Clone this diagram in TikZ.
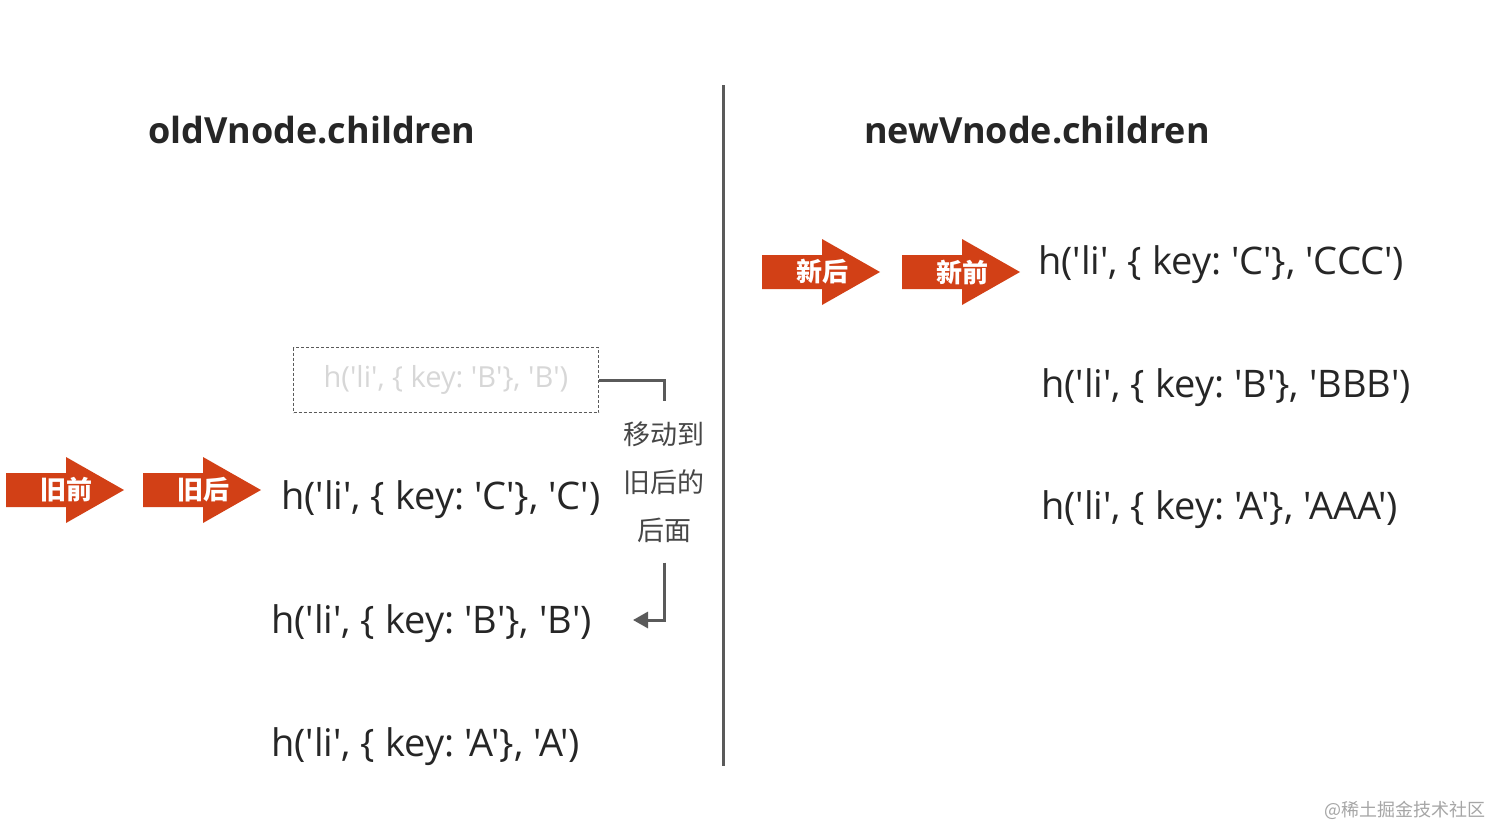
\documentclass[tikz,border=0pt]{standalone}
\usepackage{fontspec}
\setmainfont{Open Sans}
\newfontfamily\codefont{Open Sans}
\newfontfamily\cjk{Noto Sans CJK SC}
\usetikzlibrary{arrows.meta}
\usetikzlibrary{positioning}
\frenchspacing
\definecolor{tagred}{RGB}{210,64,22}
\definecolor{ink}{RGB}{38,38,38}
\definecolor{wire}{RGB}{90,90,90}
\definecolor{faded}{RGB}{215,215,215}
\tikzset{
	hcall/.style={font=\codefont\fontsize{38}{44}\selectfont, text=ink, inner sep=0pt, anchor=west},
	title/.style={font=\codefont\bfseries\fontsize{36}{42}\selectfont, text=ink, inner sep=0pt},
	ghost/.style={draw=wire, line width=1.5pt, dash pattern=on 3pt off 2pt, minimum width=305pt, minimum height=65pt, text=faded, font=\codefont\fontsize{29}{35}\selectfont},
	tag/.style={font=\cjk\bfseries\fontsize{26}{26}\selectfont, text=white, inner sep=0pt},
	note/.style={font=\cjk\fontsize{27}{48}\selectfont, text=ink!85, align=center, inner xsep=0pt, inner ysep=20pt},
	link/.style={draw=wire, line width=3pt},
	divider/.style={draw=wire, line width=3pt},
	stamp/.style={font=\cjk\fontsize{18}{18}\selectfont, text=black!35, inner sep=0pt},
	pics/pointer/.style={code={
		\fill[tagred] (-60,-17) -- (0,-17) -- (0,-33) -- (58,0) -- (0,33) -- (0,17) -- (-60,17) -- cycle;
	}}
}
\begin{document}
\begin{tikzpicture}[x=1pt, y=-1pt]
\useasboundingbox[fill=white] (0,0) rectangle (1491,827);

% headings
\node[title] (oldT) at (312,130) {oldVnode.children};
\node[title] (newT) at (1037,130) {newVnode.children};

\draw[divider] (723,85) -- (723,766);

% old children
\node[ghost] (ghostB) at (446,380) {h('li', \{ key: 'B'\}, 'B')};
\node[hcall] (oldC) at (281,500) {h('li', \{ key: 'C'\}, 'C')};
\node[hcall, below = 124pt of oldC.west, anchor=west, xshift=-10pt] (oldB) {h('li', \{ key: 'B'\}, 'B')};
\node[hcall, below = 123pt of oldB.west, anchor=west] (oldA) {h('li', \{ key: 'A'\}, 'A')};

\pic at (66,490) {pointer};
\node[tag] (oldS) at (66,490) {旧前};
\pic at (203,490) {pointer};
\node[tag] (oldE) at (203,490) {旧后};

% move B behind old end
\node[note] (move) at (664,482) {移动到\\旧后的\\后面};
\coordinate (drop) at (633,620);
\draw[link] (ghostB.east) -| (move.north);
\draw[link, -{Triangle[length=15pt, width=16pt]}] (move.south) |- (drop);

% new children
\pic at (822,272) {pointer};
\node[tag] (newE) at (822,272) {新后};
\pic at (962,272) {pointer};
\node[tag] (newS) at (962,272) {新前};

\node[hcall] (newC) at (1038,265) {h('li', \{ key: 'C'\}, 'CCC')};
\node[hcall, below = 123pt of newC.west, anchor=west, xshift=3pt] (newB) {h('li', \{ key: 'B'\}, 'BBB')};
\node[hcall, below = 122pt of newB.west, anchor=west] (newA) {h('li', \{ key: 'A'\}, 'AAA')};

\node[stamp] (credit) at (1405,810) {@稀土掘金技术社区};
\end{tikzpicture}
\end{document}
